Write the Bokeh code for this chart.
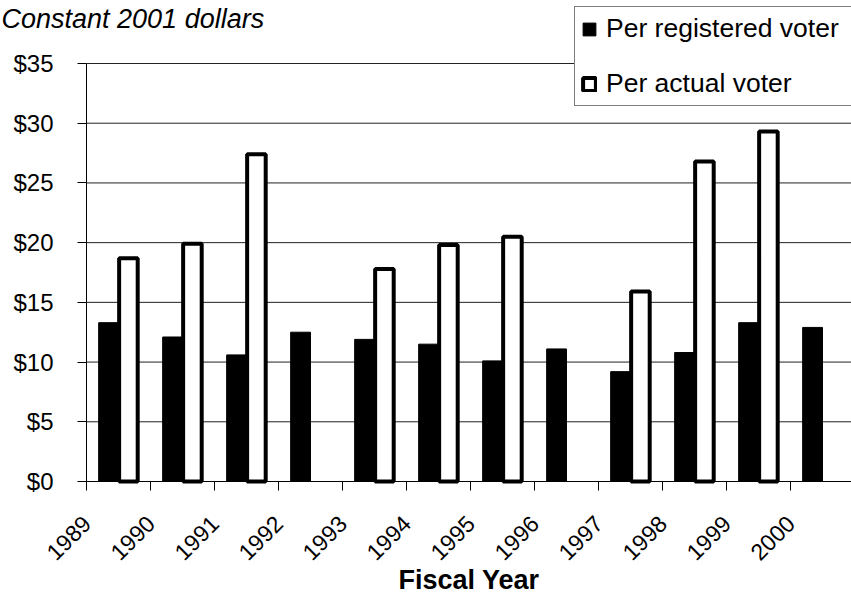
import numpy as np
from bokeh.plotting import figure
from bokeh.models import (ColumnDataSource, FixedTicker, Legend, LegendItem,
                          Label, PrintfTickFormatter, Range1d)
from bokeh.transform import dodge
from bokeh.embed import file_html
from bokeh.resources import INLINE

# ---- data ----
years = ["1989", "1990", "1991", "1992", "1993", "1994",
         "1995", "1996", "1997", "1998", "1999", "2000"]
per_registered = [13.3, 12.1, 10.6, 12.5, 11.9, 11.5,
                  10.1, 11.1, 9.2, 10.8, 13.3, 12.9]
per_actual = [18.7, 19.9, 27.4, None, 17.8, 19.8,
              20.5, None, 15.9, 26.8, 29.3, None]
y_ticks = [0, 5, 10, 15, 20, 25, 30, 35]

FONT = "Liberation Sans"
W, H = 851, 596
X0_PX, Y0_PX, Y35_PX = 86, 481, 63   # where x=0, y=0 and y=35 sit on the canvas
CAT_PX = 64.0                         # width of one category
ppu = (Y0_PX - Y35_PX) / 35.0

slot = [i + 0.5 for i in range(len(years))]
src_reg = ColumnDataSource(dict(x=slot, top=per_registered))
act_x = [s for s, v in zip(slot, per_actual) if v is not None]
act_v = [v for v in per_actual if v is not None]
src_act = ColumnDataSource(dict(x=act_x, top=act_v))

x_start = -X0_PX / CAT_PX
x_end = (W - X0_PX) / CAT_PX
y_start = -(H - Y0_PX) / ppu
y_end = Y0_PX / ppu

p = figure(width=W, height=H, output_backend="svg", toolbar_location=None,
           title_location=None,
           x_range=Range1d(x_start, x_end), y_range=Range1d(y_start, y_end),
           min_border_left=0, min_border_right=0,
           min_border_top=0, min_border_bottom=0)
p.outline_line_color = None
p.background_fill_color = "white"
p.border_fill_color = "white"
p.xgrid.visible = False
p.ygrid.visible = False

# horizontal gridlines
grid_y = y_ticks[1:]
p.segment(x0=[0] * len(grid_y), y0=grid_y, x1=[x_end] * len(grid_y), y1=grid_y,
          line_color="#222222", line_width=1)

r_reg = p.vbar(x=dodge("x", -0.155, range=p.x_range), top="top", bottom=0,
               width=0.31, source=src_reg, fill_color="black",
               line_color="black", line_width=1)
r_act = p.vbar(x=dodge("x", 0.155, range=p.x_range), top="top", bottom=0,
               width=0.29, source=src_act, fill_color="white",
               line_color="black", line_width=4)

# y axis, pinned at x=0
ya = p.yaxis[0]
ya.fixed_location = 0
ya.bounds = (0, y_ticks[-1])
ya.ticker = FixedTicker(ticks=y_ticks)
ya.formatter = PrintfTickFormatter(format="$%d")
ya.major_label_text_font = FONT
ya.major_label_text_font_size = "24px"
ya.major_label_text_color = "black"
ya.major_tick_out = 9
ya.major_tick_in = 0
ya.minor_tick_out = 0
ya.minor_tick_in = 0
ya.major_label_standoff = 24
ya.axis_line_color = "black"
ya.major_tick_line_color = "black"

# x axis, pinned at y=0
xa = p.xaxis[0]
xa.fixed_location = 0
xa.bounds = (0, x_end)
xa.ticker = FixedTicker(ticks=list(range(len(years))))
xa.major_label_overrides = {i: y for i, y in enumerate(years)}
xa.major_label_orientation = np.pi / 4
xa.major_label_text_font = FONT
xa.major_label_text_font_size = "23px"
xa.major_label_text_color = "black"
xa.major_tick_out = 9
xa.major_tick_in = 0
xa.minor_tick_out = 0
xa.minor_tick_in = 0
xa.major_label_standoff = 29
xa.axis_line_color = "black"
xa.major_tick_line_color = "black"

# x axis title
p.add_layout(Label(x=x_end / 2, y=17, x_units="data", y_units="screen",
                   text="Fiscal Year", text_font=FONT, text_font_size="27px",
                   text_font_style="bold", text_align="center",
                   text_baseline="alphabetic", text_color="black"))

# legend
legend = Legend(items=[LegendItem(label="Per registered voter", renderers=[r_reg]),
                       LegendItem(label="Per actual voter", renderers=[r_act])],
                location=(574, H - 106))
legend.label_text_font = FONT
legend.label_text_font_size = "26.5px"
legend.label_text_color = "black"
legend.glyph_width = 16
legend.glyph_height = 16
legend.label_standoff = 9
legend.label_height = 30
legend.label_width = 260
legend.spacing = 24
legend.padding = 6
legend.margin = 0
legend.border_line_color = "black"
legend.border_line_width = 1
legend.background_fill_color = "white"
legend.background_fill_alpha = 1
p.add_layout(legend)

# subtitle
p.add_layout(Label(x=1, y=H - 18, x_units="screen", y_units="screen",
                   text="Constant 2001 dollars", text_font=FONT,
                   text_font_size="27px", text_font_style="italic",
                   text_baseline="alphabetic", text_color="black"))

open("out.html", "w").write(file_html(p, INLINE))
